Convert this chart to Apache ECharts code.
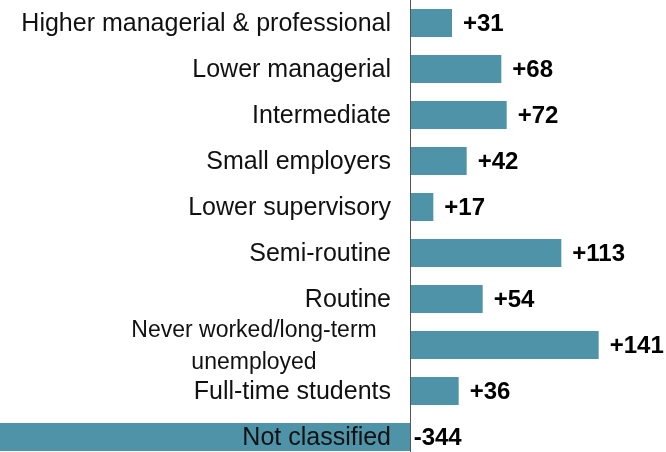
<!DOCTYPE html>
<html>
<head>
<meta charset="utf-8">
<script src="https://cdn.jsdelivr.net/npm/echarts@6/dist/echarts.min.js"></script>
<style>
  html, body { margin: 0; padding: 0; background: #fff; }
  #chart { width: 666px; height: 452px; }
</style>
</head>
<body>
<div id="chart"></div>
<script>
const categories = [
  'Higher managerial & professional',
  'Lower managerial',
  'Intermediate',
  'Small employers',
  'Lower supervisory',
  'Semi-routine',
  'Routine',
  'Never worked/long-term\nunemployed',
  'Full-time students',
  'Not classified',
];
const changes = [31, 68, 72, 42, 17, 113, 54, 141, 36, -344];

const barColor = '#4F93A8';
const font = "'Liberation Sans', Arial, sans-serif";

const seriesData = changes.map((v) => {
  if (v < 0) {
    return { value: v, label: { position: 'right', distance: 3 } };
  }
  return v;
});

const myChart = echarts.init(document.getElementById('chart'));
myChart.setOption({
  animation: false,
  grid: {
    left: 0,
    right: 0,
    top: 0,
    height: 460,
    containLabel: false,
    outerBoundsMode: 'none',
  },
  xAxis: {
    type: 'value',
    min: -308,
    max: 191.5,
    show: false,
    splitLine: { show: false },
  },
  yAxis: {
    type: 'category',
    inverse: true,
    data: categories,
    z: 5,
    axisLine: {
      show: true,
      onZero: true,
      lineStyle: { color: '#555', width: 1 },
    },
    axisTick: { show: false },
    axisLabel: {
      // labels stay at the grid edge, so pull them over to the zero line
      margin: -391,
      color: '#111',
      fontFamily: font,
      fontSize: 25,
      padding: [3, 0, 0, 0],
      formatter: (v) => {
        if (v.indexOf('\n') >= 0) {
          return v.split('\n').map((s) => '{w|' + s + '}').join('\n');
        }
        return v;
      },
      rich: {
        w: {
          width: 274,
          align: 'center',
          fontFamily: font,
          fontSize: 23,
          color: '#111',
          lineHeight: 32,
        },
      },
    },
  },
  series: [
    {
      type: 'bar',
      data: seriesData,
      barWidth: 28,
      itemStyle: { color: barColor },
      label: {
        show: true,
        position: 'right',
        distance: 11,
        offset: [0, 1],
        color: '#000',
        fontFamily: font,
        fontSize: 24,
        fontWeight: 'bold',
        formatter: (p) => (p.value > 0 ? '+' + p.value : String(p.value)),
      },
    },
  ],
});
</script>
</body>
</html>
